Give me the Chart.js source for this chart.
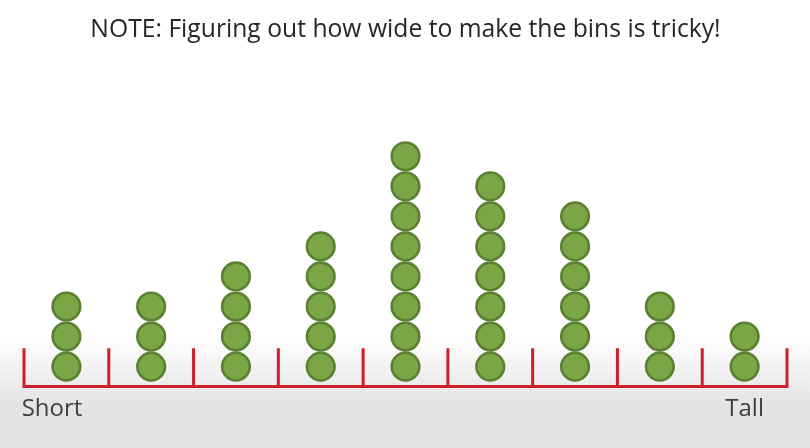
<!DOCTYPE html>
<html>
<head>
<meta charset="utf-8">
<script src="https://cdn.jsdelivr.net/npm/chart.js@4"></script>
<style>
html,body{margin:0;padding:0;background:#fff;}
#wrap{width:810px;height:448px;position:relative;}
</style>
</head>
<body>
<div id="wrap"><canvas id="c" width="810" height="448"></canvas></div>
<script>
// Data
const titleText = "NOTE: Figuring out how wide to make the bins is tricky!";
const bins = [1, 2, 3, 4, 5, 6, 7, 8, 9];
const counts = [3, 3, 4, 5, 8, 7, 6, 3, 2];
const axisLabels = ["Short", "Tall"];
const axisLabelValues = [0.33, 8.5];

// Build dots: one point per person, stacked in each bin
const dotLift = 0.66; // first dot sits slightly above the axis line
const dots = [];
bins.forEach((b, i) => {
  for (let k = 0; k < counts[i]; k++) dots.push({x: i + 0.5, y: k + dotLift});
});
// Red bracket axis with tick marks at bin edges
const tickH = 1.27;
const bracket = [];
for (let e = 0; e <= bins.length; e++) {
  bracket.push({x: e, y: tickH});
  bracket.push({x: e, y: 0});
  if (e < bins.length) bracket.push({x: e + 1, y: 0});
}

const bgPlugin = {
  id: 'bg',
  beforeDraw(chart) {
    const ctx = chart.ctx;
    ctx.save();
    ctx.fillStyle = '#ffffff';
    ctx.fillRect(0, 0, chart.width, chart.height);
    const g = ctx.createLinearGradient(0, 335, 0, 405);
    g.addColorStop(0, 'rgba(228,228,228,0)');
    g.addColorStop(1, 'rgba(228,228,228,1)');
    ctx.fillStyle = g;
    ctx.fillRect(0, 335, chart.width, chart.height - 335);
    ctx.restore();
  }
};

new Chart(document.getElementById('c'), {
  type: 'scatter',
  data: {
    datasets: [
      {
        type: 'line',
        data: bracket,
        borderColor: '#cf1f2b',
        borderWidth: 3,
        pointRadius: 0,
        fill: false,
        tension: 0,
        order: 2
      },
      {
        data: dots,
        backgroundColor: '#7ba645',
        borderColor: '#5c8032',
        borderWidth: 2.6,
        pointRadius: 13.8,
        pointHoverRadius: 13.8,
        order: 1
      }
    ]
  },
  options: {
    responsive: false,
    animation: false,
    events: [],
    layout: {autoPadding: false, padding: {left: 24, right: 23, top: 0, bottom: 15.6}},
    plugins: {
      legend: {display: false},
      tooltip: {enabled: false},
      title: {
        display: true,
        text: titleText,
        color: '#262626',
        font: {family: 'Open Sans', size: 24.7, weight: 'normal'},
        padding: {top: 15.5, bottom: 100.9}
      }
    },
    scales: {
      x: {
        type: 'linear',
        min: 0,
        max: bins.length,
        grid: {display: false, drawTicks: false},
        border: {display: false},
        afterBuildTicks(scale) {
          scale.ticks = axisLabelValues.map(v => ({value: v}));
        },
        ticks: {
          padding: 8.6,
          color: '#404040',
          font: {family: 'Open Sans', size: 24},
          autoSkip: false,
          maxRotation: 0,
          callback: (v, i) => axisLabels[i]
        }
      },
      y: {
        display: false,
        min: 0,
        max: 8
      }
    },
    clip: false
  },
  plugins: [bgPlugin]
});
</script>
</body>
</html>
